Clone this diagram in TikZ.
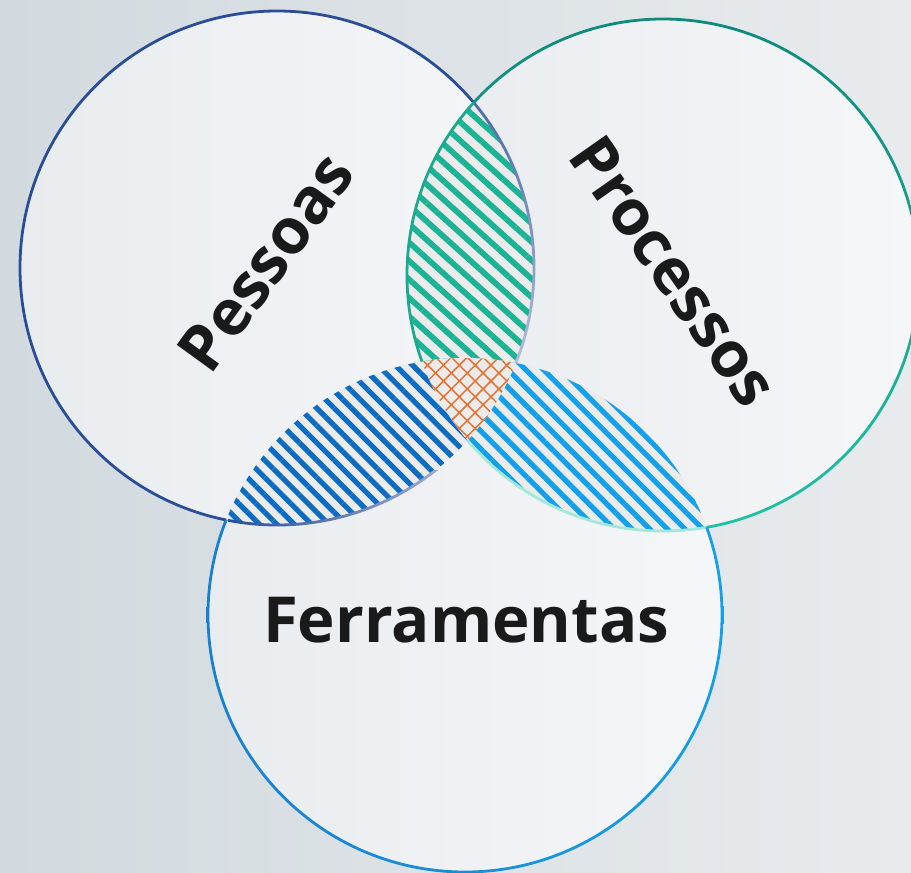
\documentclass[tikz,border=0pt]{standalone}
\usepackage{fontspec}
\setmainfont{Open Sans}
\usetikzlibrary{patterns.meta}
\definecolor{bgL}{HTML}{D2DADF}
\definecolor{bgR}{HTML}{E8EBEE}
\definecolor{cfL}{HTML}{E9ECEF}
\definecolor{cfR}{HTML}{F5F6F8}
\definecolor{lensbg}{HTML}{EBEBEC}
\definecolor{grn}{HTML}{1AB393}
\definecolor{dblu}{HTML}{0C6CC4}
\definecolor{lblu}{HTML}{12A0EA}
\definecolor{orng}{HTML}{E8702A}
\definecolor{pDark}{HTML}{2A4E96}
\definecolor{rTop}{HTML}{0F8A7B}
\definecolor{rBot}{HTML}{1EC2A2}
\definecolor{rLens}{HTML}{1CAA8E}
\definecolor{rMint}{HTML}{A3E8D9}
\definecolor{fL}{HTML}{1A7FD0}
\definecolor{fR}{HTML}{14A0E6}
\definecolor{txtc}{HTML}{1A1A1A}
\tikzset{
  txt/.style={font=\fontsize{47.6}{56}\selectfont\bfseries, text=txtc, inner sep=0pt},
  edge/.style={line width=2.1pt},
}
\def\cP{(277,268) circle (257)}
\def\cR{(663,275) circle (256)}
\def\cF{(465,615) circle (257)}
\def\bigbox{(-30,-30) rectangle (941,902)}
\begin{document}
\begin{tikzpicture}[x=0.75pt,y=-0.75pt]
\shade[left color=bgL,right color=bgR] (0,0) rectangle (911,872);
\useasboundingbox (0,0) rectangle (911,872);
% circle fills
\shade[left color=cfL,right color=cfR] \cP;
\shade[left color=cfL,right color=cfR] \cR;
\shade[left color=cfL,right color=cfR] \cF;
% lenses
\begin{scope}
  \clip \cP; \clip \cR;
  \fill[lensbg] \bigbox;
  \fill[pattern={Lines[angle=-42,distance=10.3pt,line width=4.3pt]}, pattern color=grn] \bigbox;
\end{scope}
\begin{scope}
  \clip \cP; \clip \cF;
  \fill[lensbg] \bigbox;
  \fill[pattern={Lines[angle=-45,distance=9.2pt,line width=3.9pt]}, pattern color=dblu] \bigbox;
\end{scope}
\begin{scope}
  \clip \cR; \clip \cF;
  \fill[lensbg] \bigbox;
  \fill[pattern={Lines[angle=-45,distance=9.4pt,line width=3.9pt]}, pattern color=lblu] \bigbox;
\end{scope}
\begin{scope}
  \clip \cP; \clip \cR; \clip \cF;
  \fill[lensbg] \bigbox;
  \fill[pattern={Lines[angle=45,distance=8.4pt,line width=1.1pt]}, pattern color=orng] \bigbox;
  \fill[pattern={Lines[angle=-45,distance=8.4pt,line width=1.1pt]}, pattern color=orng] \bigbox;
\end{scope}
% Pessoas outline
\begin{scope}[even odd rule]
  \clip \bigbox \cR;
  \clip \bigbox \cF;
  \draw[edge, pDark] \cP;
\end{scope}
\begin{scope}[even odd rule]
  \clip \cR;
  \clip \bigbox \cF;
  \clip (277,268) circle (258.4) (277,268) circle (255.6);
  \shade[top color=pDark!85!white, bottom color=pDark!35!white] (470,95) rectangle (545,370);
\end{scope}
\begin{scope}[even odd rule]
  \clip \cF;
  \clip \bigbox \cR;
  \clip (277,268) circle (258.4) (277,268) circle (255.6);
  \shade[left color=pDark, right color=pDark!40!white] (228,470) rectangle (470,535);
\end{scope}
% Processos outline
\begin{scope}[even odd rule]
  \clip \bigbox \cP;
  \clip \bigbox \cF;
  \shade[top color=rTop, bottom color=rBot] (663,275) circle (257.4) (663,275) circle (254.6);
\end{scope}
\begin{scope}[even odd rule]
  \clip \cP;
  \clip \bigbox \cF;
  \draw[edge, rLens] \cR;
\end{scope}
\begin{scope}[even odd rule]
  \clip \cF;
  \clip \bigbox \cP;
  \draw[edge, rMint] \cR;
\end{scope}
% Ferramentas outline
\begin{scope}[even odd rule]
  \clip \bigbox \cP;
  \clip \bigbox \cR;
  \shade[left color=fL, right color=fR] (465,615) circle (258.4) (465,615) circle (255.6);
\end{scope}
% labels
\node[txt, rotate=54] (pessoas) at (266,262) {Pessoas};
\node[txt, rotate=-55] (processos) at (674,271) {Processos};
\node[txt, anchor=base] (ferramentas) at (466,642) {Ferramentas};
\end{tikzpicture}
\end{document}
